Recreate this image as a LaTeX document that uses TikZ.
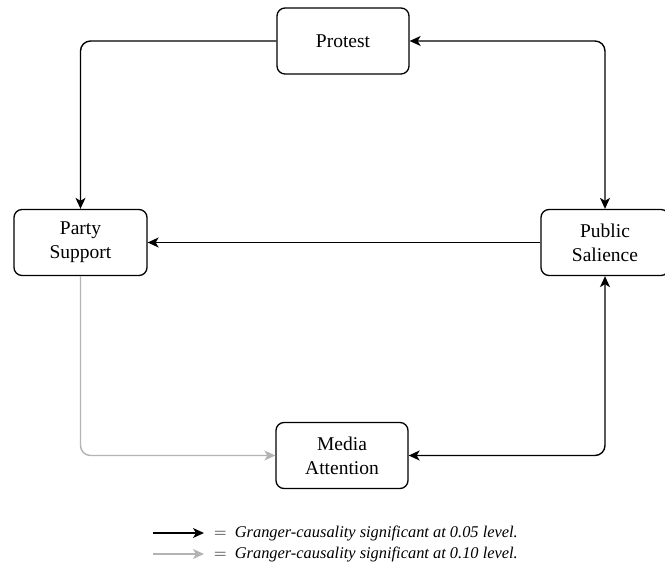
\documentclass[tikz,border=0pt]{standalone}
\usepackage{fontspec}
\setmainfont{Liberation Serif}
\usetikzlibrary{arrows.meta}

\definecolor{weakgray}{HTML}{B3B3B3}

\tikzset{
  box/.style={draw, line width=1.3pt, rounded corners=8pt, align=center,
    minimum width=132pt, minimum height=66pt,
    font=\fontsize{19.5}{24}\selectfont},
  conn/.style={line width=1.4pt, rounded corners=10pt,
    -{Stealth[length=11pt,width=10pt,inset=3pt]}},
  both/.style={conn, {Stealth[length=11pt,width=10pt,inset=3pt]}-{Stealth[length=11pt,width=10pt,inset=3pt]}},
  weak/.style={conn, color=weakgray},
  legendtext/.style={anchor=west, inner sep=0pt, font=\fontsize{16.4}{19}\selectfont}
}

\begin{document}
\begin{tikzpicture}[x=1pt, y=-1pt]
  \useasboundingbox (0,0) rectangle (665,577);

  % --- UZLY ---
  \node[box] (protest) at (343,41) {Protest};
  \node[box, minimum width=133pt] (party) at (80.5,242.5) {Party\\Support};
  \node[box, minimum width=128pt] (public) at (605,242.5) {Public\\Salience};
  \node[box] (media) at (342,455.5) {Media\\Attention};

  % --- SPOJNICE ---
  \draw[conn] (protest.west) -| (party.north);
  \draw[both] (protest.east) -| (public.north);
  \draw[conn] (public.west) -- (party.east);
  \draw[both] (public.south) |- (media.east);
  \draw[weak] (party.south) |- (media.west); % jen na 0.10

  % --- LEGENDA ---
  \coordinate (strongA) at (153,533);
  \coordinate (strongB) at (204,533);
  \coordinate (weakA) at (153,554);
  \coordinate (weakB) at (204,554);
  \draw[conn] (strongA) -- (strongB);
  \draw[weak] (weakA) -- (weakB);
  \node[legendtext] (strongtext) at (214,533)
    {$=$\enspace\textit{Granger-causality significant at 0.05 level.}};
  \node[legendtext] (weaktext) at (214,554)
    {$=$\enspace\textit{Granger-causality significant at 0.10 level.}};
\end{tikzpicture}
\end{document}
